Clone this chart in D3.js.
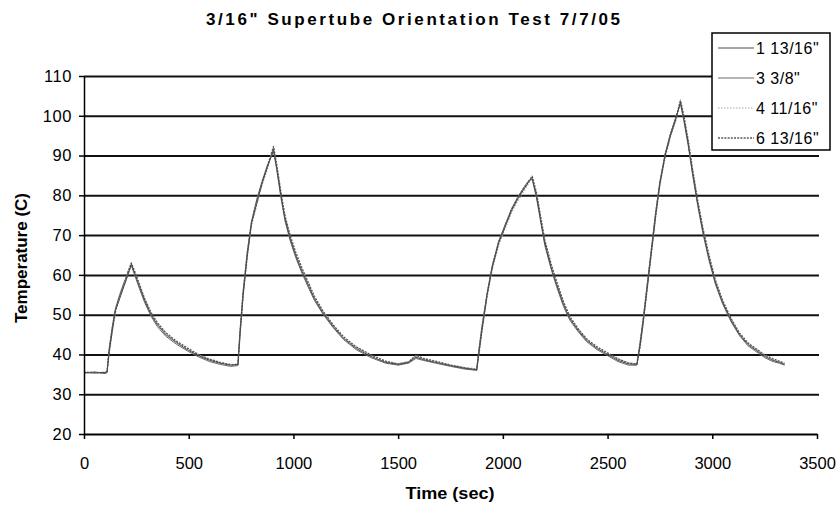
<!DOCTYPE html>
<html><head><meta charset="utf-8">
<script src="https://cdn.jsdelivr.net/npm/d3@7"></script>
<style>body{margin:0;background:#fff}svg{display:block;background:#fff}text{font-family:"Liberation Sans",Arial,sans-serif;fill:#000}</style>
</head><body><svg id="c" width="838" height="510"></svg>
<script>
const chartTitle = '3/16" Supertube Orientation Test 7/7/05';
const xLabel = 'Time (sec)';
const yLabel = 'Temperature (C)';
const xTicks = [0,500,1000,1500,2000,2500,3000,3500];
const yTicks = [20,30,40,50,60,70,80,90,100,110];
const seriesNames = ['1 13/16"','3 3/8"','4 11/16"','6 13/16"'];
const times = [0,50,100,110,120,135,150,170,190,210,226,245,265,290,320,350,390,440,500,550,600,650,700,735,745,760,780,800,825,850,875,905,920,940,960,985,1010,1040,1070,1100,1140,1190,1240,1300,1370,1440,1500,1550,1585,1620,1680,1750,1820,1875,1885,1900,1925,1950,1980,2010,2040,2070,2100,2125,2140,2160,2180,2200,2230,2260,2290,2320,2360,2400,2450,2500,2550,2600,2640,2655,2670,2690,2710,2730,2750,2775,2800,2825,2848,2865,2885,2905,2930,2955,2985,3015,3050,3090,3130,3170,3210,3250,3290,3320,3345];
const s1 = [35.5,35.3,35.5,35.6,40.5,46,51,54,57,60,62.8,60,57,53.5,50,47.5,45,43,41,39.6,38.5,37.8,37.3,37.5,45,55,65,73,78,83,87,91.5,87,80,74,69,65,61,57.5,54,50.5,47,44,41.5,39.5,38,37.5,38,39.3,38.7,38,37.2,36.5,36.2,40,46,55,62,68,72,76,79,81.5,83.5,84.3,80,74,68,62,57,52.5,49,46,43.5,41.5,40,38.5,37.6,37.5,42,48,57,66,75,83,90,95,99,103.5,99,93,86,78,71,64,58,53,48.5,45,42.5,41,39.5,38.5,38,37.5];
const s2 = [35.3,35.6,35.2,35.4,41.5,47,51.5,55,58,60.5,62.3,59.5,56.5,53,49.6,47,44.6,42.6,40.7,39.3,38.2,37.5,37,37.2,46,56,66,73.5,79,83.5,87.5,91,86.5,79.5,73.5,68.5,64.5,60.5,57,53.6,50.2,46.7,43.7,41.2,39.2,37.8,37.3,37.8,39,38.5,37.8,37,36.3,36,41,47,55.5,62.5,68.5,72.5,76.5,79.5,82,83.8,84,79.5,73.5,67.5,61.5,56.5,52,48.6,45.7,43.2,41.2,39.7,38.2,37.3,37.3,43,49,58,67,76,83.5,90.5,95.5,99.5,103,98.5,92.5,85.5,77.5,70.5,63.5,57.6,52.6,48.2,44.7,42.2,40.7,39.2,38.2,37.8,37.3];
const s3 = [35.7,35.4,35.6,35.5,40,45.5,50.5,54.5,57.5,60.2,62.5,60.3,57.3,53.8,50.3,47.8,45.3,43.2,41.2,39.8,38.7,38,37.5,37.6,44.5,54.5,64.5,72.5,77.5,82.5,86.5,92,87.5,80.5,74.5,69.5,65.5,61.5,58,54.4,50.8,47.3,44.3,41.8,39.8,38.2,37.7,38.2,39.6,38.9,38.2,37.4,36.7,36.4,39.5,45.5,54.5,61.5,67.5,71.5,75.5,78.5,81,83.2,84.6,80.5,74.5,68.5,62.5,57.5,53,49.4,46.3,43.8,41.8,40.3,38.8,37.9,37.7,41.5,47.5,56.5,65.5,74.5,82.5,89.5,94.5,98.5,104,99.5,93.5,86.5,78.5,71.5,64.5,58.4,53.4,48.8,45.3,42.8,41.3,39.8,38.8,38.2,37.7];
const s4 = [35.4,35.5,35.3,35.7,41,46.5,51.2,54.5,57.3,60.8,63,60.5,57.6,54,50.5,48,45.5,43.4,41.4,39.9,38.8,38,37.4,37.4,45.5,55.5,65.5,73.2,78.5,83.2,87.2,92.3,87.8,80.8,74.8,69.8,65.8,61.8,58.2,54.6,51,47.4,44.4,41.9,39.9,38.3,37.6,38.1,39.8,39,38.3,37.3,36.6,36.1,40.5,46.5,55.2,62.2,68.2,72.2,76.2,79.2,81.8,83.7,84.8,80.8,74.8,68.8,62.8,57.8,53.2,49.5,46.4,43.9,41.9,40.4,38.9,37.8,37.6,42.5,48.5,57.5,66.5,75.5,83.2,90.2,95.2,99.2,103.8,99.8,93.8,86.8,78.8,71.8,64.8,58.6,53.5,49,45.4,42.9,41.4,39.9,38.9,38.3,37.8];

const allSeries = [s1, s2, s3, s4];
const styles = [
  {stroke:'#4a4a4a', width:1, dash:null},
  {stroke:'#6a6a6a', width:1, dash:null},
  {stroke:'#a8a8a8', width:1.2, dash:'1.5,1.5'},
  {stroke:'#5a5a5a', width:1.4, dash:'2,1.2'}
];

const svg = d3.select('#c');
const L = 84, R = 817, T = 76, B = 434;
const x = d3.scaleLinear().domain([0,3500]).range([L,R]);
const y = d3.scaleLinear().domain([20,110]).range([B,T]);

// gridlines
const grid = svg.append('g').attr('transform',`translate(${L},0)`)
  .call(d3.axisLeft(y).tickValues(yTicks.slice(1)).tickSize(-(R-L+2)).tickFormat(''));
grid.select('.domain').remove();
grid.selectAll('line').attr('stroke','#111').attr('stroke-width',2);

// data lines
const line = d3.line().x((d,i)=>x(times[i])).y(d=>y(d));
[2,1,3,0].forEach(k=>{
  const st = styles[k];
  svg.append('path').datum(allSeries[k]).attr('d',line)
    .attr('fill','none').attr('stroke',st.stroke).attr('stroke-width',st.width)
    .attr('stroke-dasharray',st.dash).attr('stroke-linejoin','round');
});

// y axis
const ya = svg.append('g').attr('transform',`translate(${L},0)`)
  .call(d3.axisLeft(y).tickValues(yTicks).tickSize(5).tickSizeOuter(0).tickPadding(7).tickFormat(d3.format('d')));
ya.select('.domain').attr('stroke','#000').attr('stroke-width',1.5);
ya.selectAll('line').attr('stroke','#000').attr('stroke-width',1.5);
ya.selectAll('text').attr('font-size',16.5).attr('letter-spacing','0.6px').attr('font-family','"Liberation Sans",Arial,sans-serif');

// x axis
const xa = svg.append('g').attr('transform',`translate(0,${B})`)
  .call(d3.axisBottom(x).tickValues(xTicks).tickSize(5).tickSizeOuter(0).tickPadding(18).tickFormat(d3.format('d')));
xa.select('.domain').attr('stroke','#000').attr('stroke-width',2);
xa.selectAll('line').attr('stroke','#000').attr('stroke-width',1.5);
xa.selectAll('text').attr('font-size',16.5).attr('font-family','"Liberation Sans",Arial,sans-serif');

// titles
svg.append('text').attr('x',413).attr('y',25).attr('text-anchor','middle')
  .attr('font-size',17).attr('font-weight','bold')
  .attr('textLength',414).attr('lengthAdjust','spacing').text(chartTitle);
svg.append('text').attr('x',450).attr('y',499).attr('text-anchor','middle')
  .attr('font-size',16).attr('font-weight','bold')
  .attr('textLength',89).attr('lengthAdjust','spacingAndGlyphs').text(xLabel);
svg.append('text').attr('transform','translate(27,258) rotate(-90)').attr('text-anchor','middle')
  .attr('font-size',16).attr('font-weight','bold')
  .attr('textLength',130).attr('lengthAdjust','spacingAndGlyphs').text(yLabel);

// legend
const lg = svg.append('g');
lg.append('rect').attr('x',712).attr('y',33).attr('width',118).attr('height',117)
  .attr('fill','#fff').attr('stroke','#000').attr('stroke-width',1.5);
seriesNames.forEach((n,k)=>{
  const cy = 48 + k*30;
  const st = styles[k];
  lg.append('line').attr('x1',718).attr('x2',754).attr('y1',cy).attr('y2',cy)
    .attr('stroke',st.stroke).attr('stroke-width',st.width).attr('stroke-dasharray',st.dash);
  lg.append('text').attr('x',756).attr('y',cy+6).attr('font-size',16).attr('letter-spacing','0.5px').text(n);
});
</script></body></html>
